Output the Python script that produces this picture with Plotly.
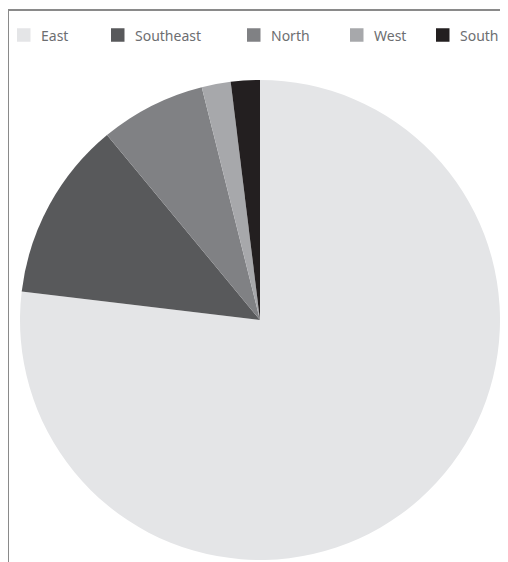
import plotly.graph_objects as go

categories = ["East", "Southeast", "North", "West", "South"]
values = [76.9, 12.1, 7.1, 1.95, 1.95]
colors = ["#e4e5e7", "#58595b", "#808184", "#a7a8ab", "#231f20"]

fig = go.Figure(go.Pie(
    labels=categories,
    values=values,
    marker=dict(colors=colors, line=dict(width=0)),
    sort=False,
    direction="clockwise",
    rotation=0,
    textinfo="none",
    hoverinfo="label+percent",
    showlegend=False,
))

# page has an 8px body margin; figure coordinates = page - 8
OFF = 8
W, H = 500, 554
L, R, T, B = 12, 8, 72, 2
pw, ph = W - L - R, H - T - B

def px_to_paper(x, y):
    return (x - L) / pw, (H - B - y) / ph

x0, y0 = px_to_paper(0, 2)
x1, y1 = px_to_paper(W, H)

shapes = [
    dict(type="line", xref="paper", yref="paper", x0=x0, y0=y0, x1=x1, y1=y0,
         line=dict(color="#8a8a8a", width=2)),
    dict(type="line", xref="paper", yref="paper", x0=x0, y0=y0, x1=x0, y1=y1,
         line=dict(color="#8a8a8a", width=2)),
]
annotations = []

# manual horizontal legend (page pixel positions of each swatch's left edge)
legend_left = [17, 111, 247, 350, 436]
sw = 13.5
cy = 35  # page y of legend row centre
for name, col, lx in zip(categories, colors, legend_left):
    ax0, ay0 = px_to_paper(lx - OFF, cy - OFF - sw / 2)
    ax1, ay1 = px_to_paper(lx - OFF + sw, cy - OFF + sw / 2)
    shapes.append(dict(type="rect", xref="paper", yref="paper",
                       x0=ax0, y0=ay0, x1=ax1, y1=ay1,
                       fillcolor=col, line=dict(width=0)))
    tx, ty = px_to_paper(lx - OFF + sw + 8.5, cy - OFF)
    annotations.append(dict(text=name, xref="paper", yref="paper", x=tx, y=ty,
                            xanchor="left", yanchor="middle", showarrow=False,
                            font=dict(family="Noto Sans", size=14, color="#6d6e71")))

fig.update_layout(
    width=W, height=H,
    margin=dict(l=L, r=R, t=T, b=B),
    paper_bgcolor="white",
    plot_bgcolor="white",
    font=dict(family="Noto Sans", size=14, color="#6d6e71"),
    showlegend=False,
    shapes=shapes,
    annotations=annotations,
)

fig.write_html("out.html")
